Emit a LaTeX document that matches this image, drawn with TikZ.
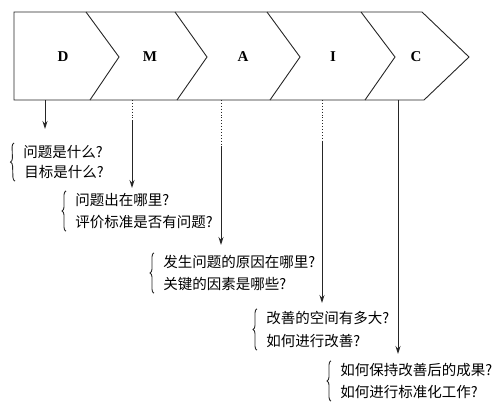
\documentclass[tikz,border=0pt]{standalone}
\usepackage{fontspec}
\setmainfont{Liberation Serif}
\newfontfamily\cjk{Noto Sans CJK SC}
\usetikzlibrary{arrows.meta,decorations.pathreplacing}

\tikzset{
  stage/.style={font=\fontsize{15}{18}\selectfont\bfseries},
  ask/.style={anchor=west,inner sep=0pt,font=\cjk\fontsize{14.5}{17}\selectfont},
  down/.style={-{Stealth[length=8pt,width=5pt]}},
  lead/.style={dotted},
  grp/.style={decorate,decoration={brace,amplitude=4pt}},
}

\begin{document}
\begin{tikzpicture}[x=1pt,y=-1pt,line width=0.9pt,draw=black!85]
  \useasboundingbox (0,0) rectangle (500,404);
  \draw (14,12) -- (422,12) -- (469,57) -- (424,100) -- (14,100) -- cycle;
  \draw (86,12) -- (119,57) -- (90,100);
  \draw (175,12) -- (207,57) -- (177,100);
  \draw (267,12) -- (300,57) -- (270,100);
  \draw (361,12) -- (395,57) -- (365,100);
  \node[stage] (sD) at (63,57) {D};
  \node[stage] (sM) at (150,57) {M};
  \node[stage] (sA) at (243,57) {A};
  \node[stage] (sI) at (333,57) {I};
  \node[stage] (sC) at (416,57) {C};
  \node[ask] (q1a) at (23,152) {问题是什么?};
  \node[ask] (q1b) at (24,172) {目标是什么?};
  \node[ask] (q2a) at (75,200) {问题出在哪里?};
  \node[ask] (q2b) at (75,222) {评价标准是否有问题?};
  \node[ask] (q3a) at (163,262) {发生问题的原因在哪里?};
  \node[ask] (q3b) at (163,284) {关键的因素是哪些?};
  \node[ask] (q4a) at (266,318) {改善的空间有多大?};
  \node[ask] (q4b) at (266,341) {如何进行改善?};
  \node[ask] (q5a) at (340,370) {如何保持改善后的成果?};
  \node[ask] (q5b) at (340,392) {如何进行标准化工作?};
  \coordinate (d0) at (45,100);
  \coordinate (d1) at (45,129);
  \coordinate (m0) at (132,100);
  \coordinate (m1) at (132,121);
  \coordinate (m2) at (132,188);
  \coordinate (a0) at (221,100);
  \coordinate (a1) at (221,146);
  \coordinate (a2) at (221,245);
  \coordinate (i0) at (322,100);
  \coordinate (i1) at (322,141);
  \coordinate (i2) at (322,303);
  \coordinate (c0) at (398,100);
  \coordinate (c1) at (398,354);
  \draw[down] (d0) -- (d1);
  \draw[lead] (m0) -- (m1);
  \draw[down] (m1) -- (m2);
  \draw[lead] (a0) -- (a1);
  \draw[down] (a1) -- (a2);
  \draw[lead] (i0) -- (i1);
  \draw[down] (i1) -- (i2);
  \draw[down] (c0) -- (c1);
  \draw[grp] ([xshift=-9pt,yshift=-2pt]q1b.south west) -- ([xshift=-9pt,yshift=2pt]q1a.north west);
  \draw[grp] ([xshift=-9pt,yshift=-2pt]q2b.south west) -- ([xshift=-9pt,yshift=2pt]q2a.north west);
  \draw[grp] ([xshift=-9pt,yshift=-2pt]q3b.south west) -- ([xshift=-9pt,yshift=2pt]q3a.north west);
  \draw[grp] ([xshift=-9pt,yshift=-2pt]q4b.south west) -- ([xshift=-9pt,yshift=2pt]q4a.north west);
  \draw[grp] ([xshift=-9pt,yshift=-2pt]q5b.south west) -- ([xshift=-9pt,yshift=2pt]q5a.north west);
\end{tikzpicture}
\end{document}
